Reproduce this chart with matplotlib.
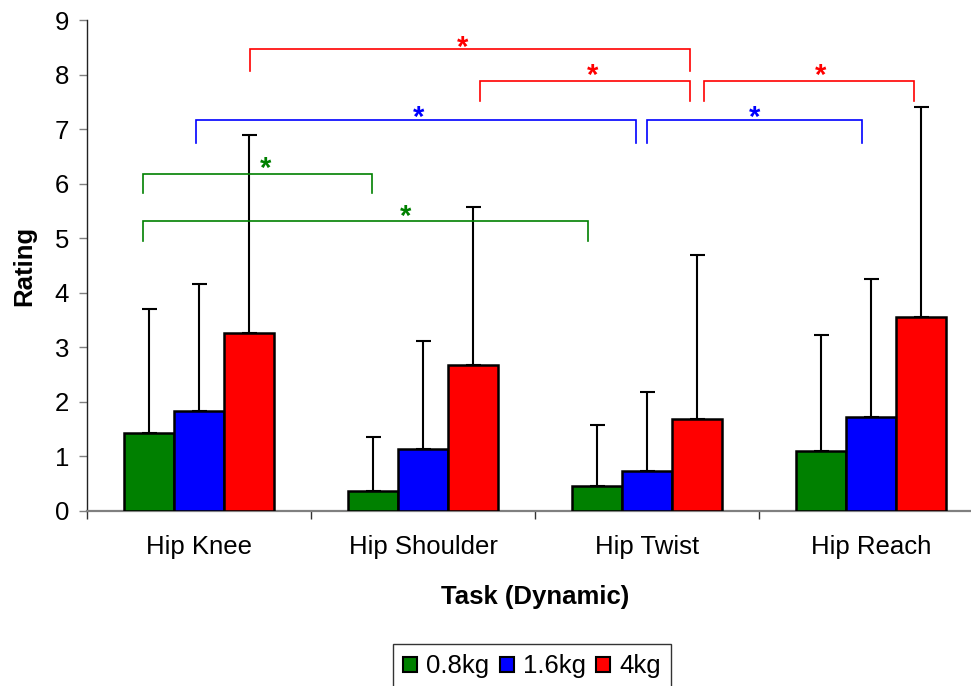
import matplotlib
matplotlib.use('Agg')
import matplotlib.pyplot as plt
import matplotlib.transforms as mtransforms
from matplotlib.patches import Patch
import numpy as np

plt.rcParams['font.family'] = ['Liberation Sans', 'DejaVu Sans']

# ---------------- data ----------------
tasks = ['Hip Knee', 'Hip Shoulder', 'Hip Twist', 'Hip Reach']
loads = ['0.8kg', '1.6kg', '4kg']
mean_08 = [1.43, 0.37, 0.45, 1.10]
sd_08 = [2.28, 0.99, 1.13, 2.12]
mean_16 = [1.84, 1.14, 0.74, 1.72]
sd_16 = [2.33, 1.97, 1.45, 2.53]
mean_4 = [3.27, 2.68, 1.68, 3.56]
sd_4 = [3.63, 2.89, 3.01, 3.84]
y_ticks = [0, 1, 2, 3, 4, 5, 6, 7, 8, 9]

# significance brackets: load index, x start, x end, line y, end y, star x, star y
bracket_load = [0, 0, 1, 1, 2, 2, 2]
bracket_x1 = [-0.249, -0.249, -0.015, 2.002, 0.228, 1.253, 2.253]
bracket_x2 = [0.771, 1.738, 1.951, 2.960, 2.192, 2.192, 3.192]
bracket_y = [6.17, 5.32, 7.16, 7.16, 8.47, 7.88, 7.88]
bracket_end = [5.83, 4.95, 6.75, 6.75, 8.06, 7.51, 7.51]
star_x = [0.295, 0.92, 0.981, 2.479, 1.177, 1.758, 2.774]
star_y = [6.42, 5.53, 7.35, 7.35, 8.63, 8.12, 8.12]

colors = ['#008000', '#0000FF', '#FF0000']
means = [mean_08, mean_16, mean_4]
sds = [sd_08, sd_16, sd_4]

# ---------------- figure ----------------
W, H = 971, 686
fig = plt.figure(figsize=(W / 100, H / 100), dpi=100)
ax = fig.add_axes([87 / W, 175 / H, 896 / W, 491 / H])

fs = 18.5
bw = 0.223
xc = np.arange(len(tasks))
for j in range(3):
    ax.bar(xc + (j - 1) * bw, means[j], bw, color=colors[j], edgecolor='black',
           linewidth=1.8, zorder=3,
           yerr=[np.zeros(len(tasks)), sds[j]],
           error_kw=dict(ecolor='black', elinewidth=1.5, capsize=5.4,
                         capthick=1.5, zorder=2))

# brackets
star_off = mtransforms.ScaledTranslation(0, -0.16, fig.dpi_scale_trans)
for k in range(len(bracket_load)):
    c = colors[bracket_load[k]]
    ax.plot([bracket_x1[k], bracket_x1[k], bracket_x2[k], bracket_x2[k]],
            [bracket_end[k], bracket_y[k], bracket_y[k], bracket_end[k]],
            color=c, linewidth=1.2, zorder=4, solid_joinstyle='miter')
    ax.text(star_x[k], star_y[k], '*', color=c, fontsize=21, fontweight='bold',
            ha='center', va='baseline', transform=ax.transData + star_off)

ax.set_xlim(-0.5, len(tasks) - 0.5)
ax.set_ylim(0, 9)

# x axis: ticks at category boundaries, labels at centres
ax.set_xticks(np.arange(len(tasks) + 1) - 0.5)
ax.set_xticklabels([])
ax.set_xticks(xc, minor=True)
ax.set_xticklabels(tasks, minor=True)
ax.tick_params(axis='x', which='major', length=5.5, width=1, color='#333333',
               direction='out')
ax.tick_params(axis='x', which='minor', length=0, pad=17, labelsize=fs)

ax.set_yticks(y_ticks)
ax.tick_params(axis='y', length=6, width=1, color='#808080', direction='out',
               pad=7, labelsize=fs)

for s in ['top', 'right']:
    ax.spines[s].set_visible(False)
ax.spines['left'].set_color('#222222')
ax.spines['left'].set_linewidth(1)
ax.spines['bottom'].set_color('#808080')
ax.spines['bottom'].set_linewidth(1.6)

ax.set_xlabel('Task (Dynamic)', fontsize=fs, fontweight='bold', va='center')
ax.xaxis.set_label_coords(0.5, (511 - 597) / 491)
ax.set_ylabel('Rating', fontsize=fs, fontweight='bold', va='center')
ax.yaxis.set_label_coords((24 - 87) / 896, 0.5)

handles = [Patch(facecolor=colors[j], edgecolor='black', linewidth=1.5,
                 label=loads[j]) for j in range(3)]
leg = fig.legend(handles=handles, loc='upper left',
                 bbox_to_anchor=(392.7 / W, 1 - 644 / H), ncol=3, frameon=True,
                 fancybox=False, edgecolor='black', fontsize=fs,
                 handlelength=0.54, handleheight=0.54, handletextpad=0.35,
                 columnspacing=0.42, borderpad=0.4, borderaxespad=0)
leg.get_frame().set_linewidth(1)

fig.savefig('out.png', dpi=100)
